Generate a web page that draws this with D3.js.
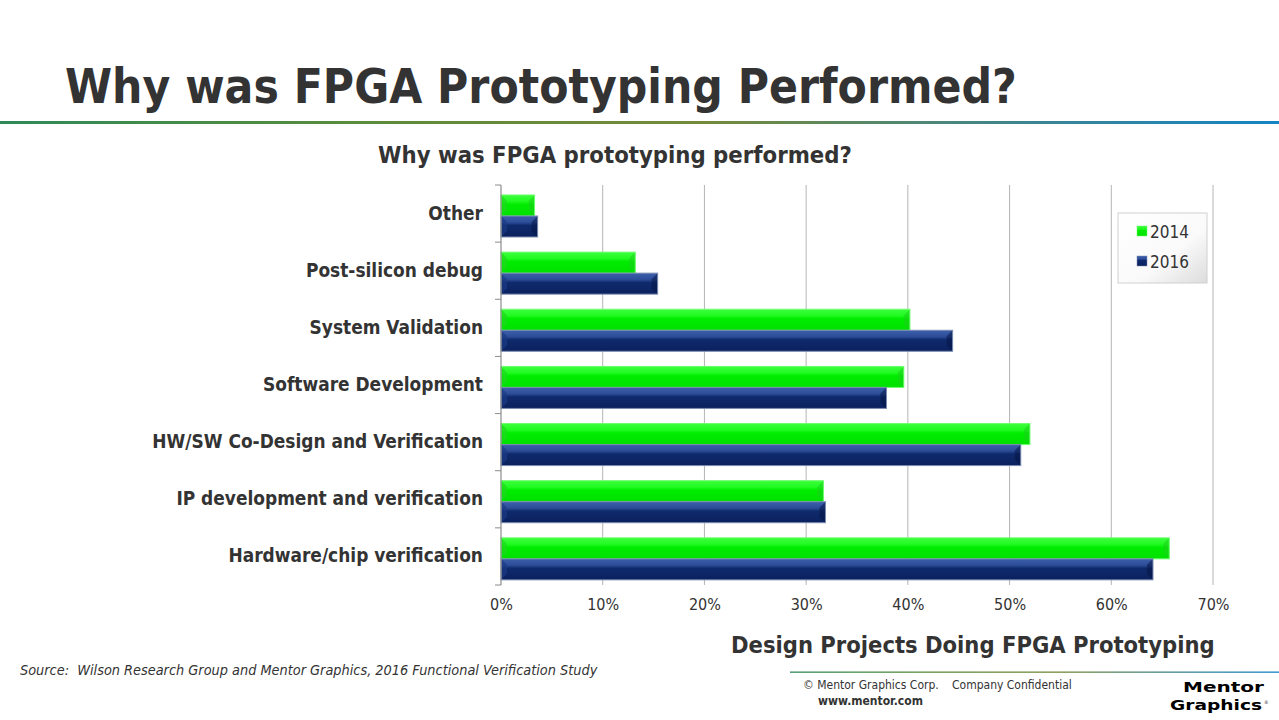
<!DOCTYPE html>
<html>
<head>
<meta charset="utf-8">
<script src="https://cdn.jsdelivr.net/npm/d3@7"></script>
<style>
  body { margin: 0; background: #fff; }
  svg { display: block; }
  text { font-family: "DejaVu Sans Condensed", "DejaVu Sans", sans-serif; fill: #333; }
</style>
</head>
<body>
<svg id="chart" width="1279" height="720"></svg>
<script>
// data (share of design projects, in %)
const categories = [
  "Other",
  "Post-silicon debug",
  "System Validation",
  "Software Development",
  "HW/SW Co-Design and Verification",
  "IP development and verification",
  "Hardware/chip verification"
];
const series = ["2014", "2016"];
const values2014 = [3.3, 13.2, 40.2, 39.6, 52.0, 31.7, 65.7];
const values2016 = [3.6, 15.4, 44.4, 37.9, 51.1, 31.9, 64.1];
const xTicks = [0, 10, 20, 30, 40, 50, 60, 70];

const rows = categories.map((c, i) => ({ cat: c, v: [values2014[i], values2016[i]] }));

const svg = d3.select("#chart");
const defs = svg.append("defs");

// shrink/grow a text so it fills a measured width
function fit(sel, w) {
  const n = sel.node();
  const fs = parseFloat(sel.attr("font-size"));
  const len = n.getComputedTextLength();
  sel.attr("font-size", (fs * w / len).toFixed(2));
}

// header rule gradient
const hg = defs.append("linearGradient").attr("id", "rule").attr("x1", 0).attr("x2", 1);
[[0, "#2e8a58"], [0.3, "#5d8c3a"], [0.55, "#748a3a"], [0.8, "#3d8590"], [1, "#1484c4"]]
  .forEach(([o, c]) => hg.append("stop").attr("offset", o).attr("stop-color", c));

const title = svg.append("text")
  .attr("x", 65).attr("y", 103)
  .attr("font-size", 48).attr("font-weight", "bold")
  .text("Why was FPGA Prototyping Performed?");
fit(title, 952);

svg.append("rect").attr("x", 0).attr("y", 121).attr("width", 1279).attr("height", 3)
  .attr("fill", "url(#rule)");

const sub = svg.append("text")
  .attr("x", 615).attr("y", 163).attr("text-anchor", "middle")
  .attr("font-size", 21).attr("font-weight", "bold")
  .text("Why was FPGA prototyping performed?");
fit(sub, 474);

// plot area
const pLeft = 501, pRight = 1213, pTop = 185, pBottom = 585;

const x = d3.scaleLinear().domain([0, 70]).range([pLeft, pRight]);
const y = d3.scaleBand().domain(categories).range([pTop, pBottom]);
const ys = d3.scaleBand().domain(series).range([0, y.bandwidth()])
  .paddingOuter(0.36).align(0.66);

// gridlines
svg.append("g").selectAll("line")
  .data(xTicks.filter(t => t > 0))
  .join("line")
    .attr("x1", d => x(d)).attr("x2", d => x(d))
    .attr("y1", pTop).attr("y2", pBottom)
    .attr("stroke", "#b4b4b4").attr("stroke-width", 1);

// bar gradients
function grad(id, stops) {
  const g = defs.append("linearGradient").attr("id", id)
    .attr("x1", 0).attr("x2", 0).attr("y1", 0).attr("y2", 1);
  stops.forEach(([o, c]) => g.append("stop").attr("offset", o).attr("stop-color", c));
}
grad("g2014", [[0, "#3cff3c"], [0.3, "#22fa22"], [0.45, "#00ec00"], [1, "#00e000"]]);
grad("g2016", [[0, "#3d5fab"], [0.3, "#2d4d98"], [0.45, "#0f2a6c"], [1, "#0b215e"]]);
const edge = { "2014": "#6cff6c", "2016": "#7c8cb0" };
const darkEnd = { "2014": "#1bd01b", "2016": "#061646" };
const lightEnd = { "2014": "#1cd81c", "2016": "#1b3a84" };

const bars = svg.append("g").selectAll("g")
  .data(rows)
  .join("g")
    .attr("transform", d => `translate(0,${y(d.cat)})`);

bars.selectAll("g.bar")
  .data(d => d.v.map((v, i) => ({ s: series[i], v })))
  .join("g").attr("class", "bar")
  .each(function (d) {
    const g = d3.select(this);
    const x0 = x(0), x1 = x(d.v), y0 = ys(d.s), h = ys.bandwidth();
    const b = Math.min(6, (x1 - x0) / 2);
    g.append("rect")
      .attr("x", x0).attr("y", y0).attr("width", x1 - x0).attr("height", h)
      .attr("fill", `url(#g${d.s})`);
    // bevelled ends
    g.append("path")
      .attr("d", `M${x0},${y0}L${x0 + b},${y0 + b}L${x0 + b},${y0 + h - b}L${x0},${y0 + h}Z`)
      .attr("fill", lightEnd[d.s]).attr("opacity", 0.7);
    g.append("path")
      .attr("d", `M${x1},${y0}L${x1 - b},${y0 + b}L${x1 - b},${y0 + h - b}L${x1},${y0 + h}Z`)
      .attr("fill", darkEnd[d.s]).attr("opacity", 0.55);
    g.append("rect")
      .attr("x", x0).attr("y", y0).attr("width", x1 - x0).attr("height", h)
      .attr("fill", "none").attr("stroke", edge[d.s]).attr("stroke-width", 1);
  });

// y axis: line, ticks at band edges, labels
const yAxis = svg.append("g").attr("transform", `translate(${pLeft},0)`)
  .call(d3.axisLeft(y).tickSize(0).tickPadding(18));
yAxis.select(".domain").remove();
yAxis.selectAll("text")
  .attr("font-size", 17).attr("font-weight", "bold")
  .attr("font-family", "DejaVu Sans Condensed, DejaVu Sans, sans-serif")
  .attr("fill", "#333");
// scale label font from the widest label
const probe = yAxis.selectAll("text").filter(d => d === "HW/SW Co-Design and Verification");
const labSize = 17 * 331 / probe.node().getComputedTextLength();
yAxis.selectAll("text").attr("font-size", labSize.toFixed(2));

const edges = categories.map(c => y(c)).concat([y(categories[categories.length - 1]) + y.bandwidth()]);
svg.append("g").selectAll("line")
  .data(edges)
  .join("line")
    .attr("x1", pLeft - 6).attr("x2", pLeft)
    .attr("y1", d => d).attr("y2", d => d)
    .attr("stroke", "#8c8c8c");
svg.append("line")
  .attr("x1", pLeft).attr("x2", pLeft).attr("y1", pTop).attr("y2", pBottom)
  .attr("stroke", "#8c8c8c").attr("stroke-width", 1.2);

// x axis labels
const xAxis = svg.append("g").attr("transform", `translate(0,${pBottom})`)
  .call(d3.axisBottom(x).tickValues(xTicks).tickSize(0).tickPadding(14)
    .tickFormat(d => d + "%"));
xAxis.select(".domain").remove();
xAxis.selectAll("text")
  .attr("font-size", 16)
  .attr("font-family", "DejaVu Sans Condensed, DejaVu Sans, sans-serif")
  .attr("fill", "#333");

const xt = svg.append("text")
  .attr("x", 731).attr("y", 653)
  .attr("font-size", 22).attr("font-weight", "bold")
  .text("Design Projects Doing FPGA Prototyping");
fit(xt, 484);

// legend
const lg = defs.append("linearGradient").attr("id", "leg")
  .attr("x1", 0).attr("x2", 1).attr("y1", 0).attr("y2", 1);
[[0, "#ffffff"], [0.6, "#fafafa"], [1, "#dcdcdc"]]
  .forEach(([o, c]) => lg.append("stop").attr("offset", o).attr("stop-color", c));
svg.append("rect").attr("x", 1118).attr("y", 213).attr("width", 89).attr("height", 70)
  .attr("fill", "url(#leg)").attr("stroke", "#d0d0d0");
const legend = svg.append("g").selectAll("g")
  .data(series)
  .join("g")
    .attr("transform", (d, i) => `translate(1137,${231 + i * 30})`);
legend.append("rect")
  .attr("x", 0).attr("y", -5).attr("width", 10).attr("height", 10)
  .attr("fill", d => `url(#g${d})`).attr("stroke", d => edge[d]).attr("stroke-width", 0.5);
legend.append("text")
  .attr("x", 13).attr("y", 6.5)
  .attr("font-size", 17)
  .text(d => d);

// source note
const src = svg.append("text")
  .attr("x", 20).attr("y", 675)
  .attr("font-size", 14).attr("font-style", "italic")
  .style("white-space", "pre")
  .text("Source:  Wilson Research Group and Mentor Graphics, 2016 Functional Verification Study");
fit(src, 578);

// footer
svg.append("rect").attr("x", 790).attr("y", 671.5).attr("width", 489).attr("height", 1.3)
  .attr("fill", "url(#rule)");
svg.append("text").attr("x", 803).attr("y", 689).attr("font-size", 12)
  .text("© Mentor Graphics Corp.");
svg.append("text").attr("x", 952).attr("y", 689).attr("font-size", 12)
  .text("Company Confidential");
svg.append("text").attr("x", 818).attr("y", 705).attr("font-size", 12).attr("font-weight", "bold")
  .attr("fill", "#222")
  .text("www.mentor.com");

// logo: two stacked words, kept just clear of each other
const logoStyle = s => s.attr("font-size", 14).attr("font-weight", "bold")
  .attr("font-family", "DejaVu Sans, sans-serif").style("fill", "#000")
  .attr("lengthAdjust", "spacingAndGlyphs");
svg.append("text").call(logoStyle)
  .attr("x", 1183).attr("y", 692).attr("textLength", 81).text("Mentor");
svg.append("text").call(logoStyle)
  .attr("x", 1170).attr("y", 709.5).attr("textLength", 92).text("Graphics");
svg.append("text").attr("x", 1264).attr("y", 704).attr("font-size", 5).text("®");
</script>
</body>
</html>
